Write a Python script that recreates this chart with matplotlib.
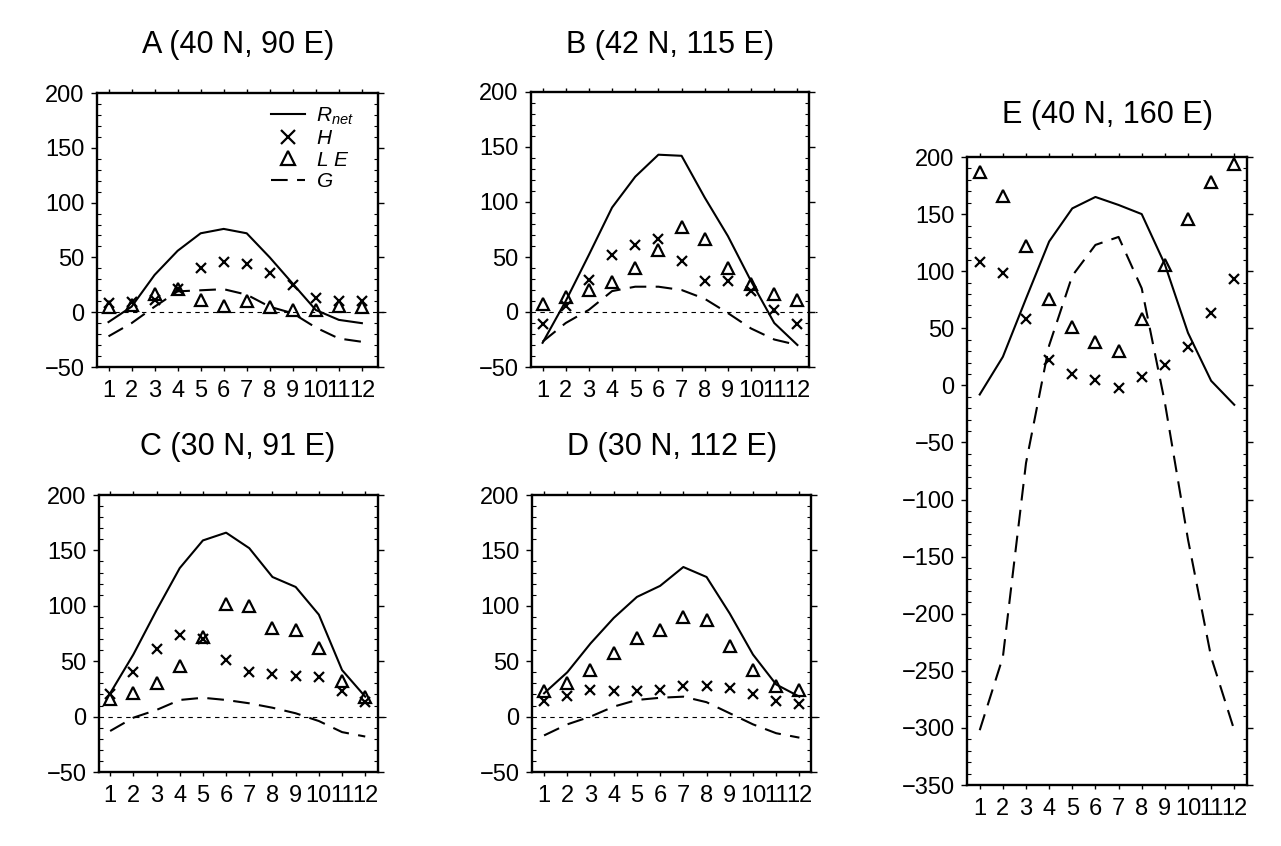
import numpy as np
import matplotlib
matplotlib.use("Agg")
import matplotlib.pyplot as plt
from matplotlib.ticker import MultipleLocator

# ========== Data ==========
MONTHS = np.arange(1, 13)
MONTH_LABELS = [str(m) for m in MONTHS]

# A (40 N, 90 E)
rnet_a = [-9, 5, 34, 56, 72, 76, 72, 50, 26, 2, -7, -10]
h_a = [8, 9, 11, 21, 40, 46, 44, 36, 25, 13, 10, 10]
le_a = [5, 7, 17, 21, 11, 6, 10, 5, 2, 2, 6, 5]
g_a = [-22, -10, 5, 19, 20, 21, 16, 5, -1, -14, -24, -27]

# B (42 N, 115 E)
rnet_b = [-28, 10, 52, 95, 123, 143, 142, 104, 69, 28, -10, -30]
h_b = [-11, 5, 29, 52, 61, 66, 46, 28, 28, 19, 2, -11]
le_b = [7, 14, 20, 27, 40, 56, 77, 66, 40, 25, 16, 11]
g_b = [-27, -10, 2, 19, 23, 23, 20, 12, -1, -15, -25, -30]

# C (30 N, 91 E)
rnet_c = [21, 56, 96, 134, 159, 166, 152, 126, 117, 92, 42, 18]
h_c = [20, 40, 61, 74, 70, 51, 40, 38, 37, 36, 23, 13]
le_c = [16, 21, 30, 46, 72, 102, 100, 80, 78, 62, 32, 18]
g_c = [-13, -1, 6, 15, 17, 15, 12, 8, 3, -4, -14, -18]

# D (30 N, 112 E)
rnet_d = [21, 40, 66, 89, 108, 118, 135, 126, 93, 56, 29, 18]
h_d = [14, 19, 24, 23, 23, 24, 28, 28, 26, 20, 14, 11]
le_d = [23, 30, 42, 57, 71, 78, 90, 87, 64, 42, 28, 24]
g_d = [-17, -7, 0, 9, 15, 17, 18, 13, 3, -7, -15, -19]

# E (40 N, 160 E)
rnet_e = [-8, 25, 76, 126, 155, 165, 158, 150, 106, 46, 4, -17]
h_e = [108, 98, 58, 22, 10, 5, -2, 7, 18, 34, 63, 93]
le_e = [187, 166, 122, 76, 51, 38, 30, 58, 105, 146, 178, 194]
g_e = [-302, -238, -68, 35, 96, 123, 130, 85, -15, -135, -238, -302]

# ========== Style ==========
plt.rcParams['font.family'] = ['Liberation Sans', 'DejaVu Sans']
plt.rcParams['mathtext.fontset'] = 'custom'
plt.rcParams['mathtext.rm'] = 'Liberation Sans'
plt.rcParams['mathtext.it'] = 'Liberation Sans:italic'

W, H = 1281, 846
fig = plt.figure(figsize=(W / 100, H / 100), dpi=100)


def add_axes_px(left, top, right, bottom):
    return fig.add_axes([left / W, 1 - bottom / H, (right - left) / W, (bottom - top) / H])


def draw_panel(ax, rnet, h, le, g, ylim, xlim, zero_line=True):
    ax.plot(MONTHS, rnet, color='black', lw=1.5, label=r'$R_{net}$')
    ax.plot(MONTHS, h, ls='none', marker='x', ms=7.5, mew=1.6, color='black', label=r'$H$')
    ax.plot(MONTHS, le, ls='none', marker='^', ms=8.5, mew=1.6, mfc='none', mec='black',
            label=r'$L\ E$')
    ax.plot(MONTHS, g, color='black', lw=1.5, dashes=(8, 4.5), label=r'$G$')
    if zero_line:
        ax.axhline(0, xmin=0, xmax=1.03, color='black', lw=0.8, dashes=(4, 4), clip_on=False)

    ax.set_xlim(*xlim)
    ax.set_ylim(*ylim)
    ax.set_xticks(MONTHS)
    ax.set_xticklabels(MONTH_LABELS)
    ax.yaxis.set_major_locator(MultipleLocator(50))
    ax.yaxis.set_minor_locator(MultipleLocator(10))
    ax.tick_params(axis='x', which='major', direction='out', length=3, width=1,
                   top=True, labelsize=17, pad=6)
    ax.tick_params(axis='y', which='major', direction='out', length=4, width=1,
                   right=True, labelsize=17, pad=5)
    ax.tick_params(axis='y', which='minor', direction='in', length=3, width=0.8, right=True)
    for sp in ax.spines.values():
        sp.set_linewidth(1.7)


ax_a = add_axes_px(97, 93, 378, 367)
draw_panel(ax_a, rnet_a, h_a, le_a, g_a, (-50, 200), (0.5, 12.7))
ax_b = add_axes_px(531, 92, 809, 367)
draw_panel(ax_b, rnet_b, h_b, le_b, g_b, (-50, 200), (0.5, 12.5))
ax_c = add_axes_px(99, 495, 378, 772)
draw_panel(ax_c, rnet_c, h_c, le_c, g_c, (-50, 200), (0.52, 12.55))
ax_d = add_axes_px(532, 495, 811, 772)
draw_panel(ax_d, rnet_d, h_d, le_d, g_d, (-50, 200), (0.48, 12.5))
ax_e = add_axes_px(967, 157, 1247, 785)
draw_panel(ax_e, rnet_e, h_e, le_e, g_e, (-350, 200), (0.45, 12.55), zero_line=False)

ax_a.legend(loc='upper left', bbox_to_anchor=(0.62, 0.955), frameon=False, fontsize=15,
            handlelength=1.6, handletextpad=0.55, labelspacing=0.12, borderpad=0,
            borderaxespad=0, markerscale=1.25)

# titles
titles = [("A (40 N, 90 E)", 238, 45), ("B (42 N, 115 E)", 670, 45),
          ("C (30 N, 91 E)", 238, 447), ("D (30 N, 112 E)", 672, 447),
          ("E (40 N, 160 E)", 1107, 115)]
for txt, x, y in titles:
    fig.text(x / W, 1 - y / H, txt, ha='center', va='center', fontsize=22)

fig.savefig("out.png", dpi=100, facecolor='white')
